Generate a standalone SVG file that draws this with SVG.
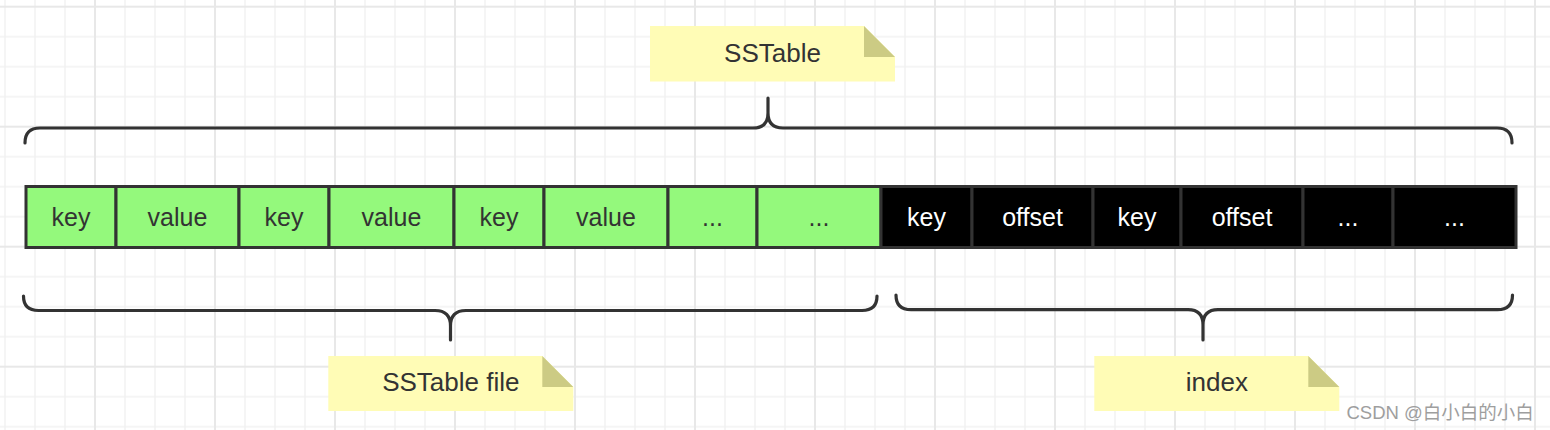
<svg xmlns="http://www.w3.org/2000/svg" width="1550" height="430" viewBox="0 0 1550 430">
<style>
.cell{stroke:#333;stroke-width:3}
.g{fill:#94f97c}
.b{fill:#000}
.t{font-family:"Liberation Sans",Arial,sans-serif;font-size:25px;text-anchor:middle}
.nt{font-size:26px}
.dk{fill:#333}
.wh{fill:#fff}
.brace{fill:none;stroke:#333;stroke-width:3.2;stroke-linecap:round;stroke-linejoin:round}
.note{fill:#fffcb6}
.fold{fill:#cccb84}
.wm{font-family:"Liberation Sans","Noto Sans CJK SC",sans-serif;font-size:18.5px;fill:#9e9e9e}
</style>
<defs>
<pattern id="grid" patternUnits="userSpaceOnUse" x="-40" y="-8.3" width="120" height="120">
<path d="M45 0V120M75 0V120M105 0V120M0 45H120M0 75H120M0 105H120" stroke="#f2f2f2" stroke-width="1.5" fill="none"/>
<path d="M15 0V120M0 15H120" stroke="#e8e8e8" stroke-width="2" fill="none"/>
</pattern>
</defs>
<rect width="1550" height="430" fill="#fff"/>
<rect width="1550" height="430" fill="url(#grid)"/>

<g id="connectors">
<path class="brace" d="M25 143Q25 128 40 128L753 128Q768 128 768 113L768 98M768 113Q768 128 783 128L1497 128Q1512 128 1512 143"/>
<path class="brace" d="M23.5 296Q23.5 310.5 38.5 310.5L435 310.5Q450.5 310.5 450.5 326L450.5 340M450.5 326Q450.5 310.5 466 310.5L862 310.5Q877 310.5 877 296"/>
<path class="brace" d="M896 295Q896 309.7 911 309.7L1188 309.7Q1203 309.7 1203 325L1203 340M1203 325Q1203 309.7 1218 309.7L1497.5 309.7Q1512.5 309.7 1512.5 295"/>
</g>

<g id="note-sstable">
<path class="note" d="M650 26H864L895 57V81.5H650Z"/>
<path class="fold" d="M864 26L895 57H864Z"/>
<text class="t nt dk" x="772.5" y="62">SSTable</text>
</g>
<g id="note-sstable-file">
<path class="note" d="M328.3 356H542.3L573.3 387V411H328.3Z"/>
<path class="fold" d="M542.3 356L573.3 387H542.3Z"/>
<text class="t nt dk" x="450.8" y="391">SSTable file</text>
</g>
<g id="note-index">
<path class="note" d="M1094.3 356H1308.3L1339.3 387V411H1094.3Z"/>
<path class="fold" d="M1308.3 356L1339.3 387H1308.3Z"/>
<text class="t nt dk" x="1216.8" y="391">index</text>
</g>

<g id="cell-1"><rect class="cell g" x="26" y="186.5" width="90" height="61"/><text class="t dk" x="71" y="226">key</text></g>
<g id="cell-2"><rect class="cell g" x="116" y="186.5" width="123" height="61"/><text class="t dk" x="177.5" y="226">value</text></g>
<g id="cell-3"><rect class="cell g" x="239" y="186.5" width="90" height="61"/><text class="t dk" x="284" y="226">key</text></g>
<g id="cell-4"><rect class="cell g" x="329" y="186.5" width="125" height="61"/><text class="t dk" x="391.5" y="226">value</text></g>
<g id="cell-5"><rect class="cell g" x="454" y="186.5" width="90" height="61"/><text class="t dk" x="499" y="226">key</text></g>
<g id="cell-6"><rect class="cell g" x="544" y="186.5" width="124" height="61"/><text class="t dk" x="606" y="226">value</text></g>
<g id="cell-7"><rect class="cell g" x="668" y="186.5" width="89" height="61"/><text class="t dk" x="712.5" y="226">...</text></g>
<g id="cell-8"><rect class="cell g" x="757" y="186.5" width="124" height="61"/><text class="t dk" x="819" y="226">...</text></g>
<g id="cell-9"><rect class="cell b" x="881" y="186.5" width="91" height="61"/><text class="t wh" x="926.5" y="226">key</text></g>
<g id="cell-10"><rect class="cell b" x="972" y="186.5" width="121" height="61"/><text class="t wh" x="1032.5" y="226">offset</text></g>
<g id="cell-11"><rect class="cell b" x="1093" y="186.5" width="88" height="61"/><text class="t wh" x="1137" y="226">key</text></g>
<g id="cell-12"><rect class="cell b" x="1181" y="186.5" width="122" height="61"/><text class="t wh" x="1242" y="226">offset</text></g>
<g id="cell-13"><rect class="cell b" x="1303" y="186.5" width="90" height="61"/><text class="t wh" x="1348" y="226">...</text></g>
<g id="cell-14"><rect class="cell b" x="1393" y="186.5" width="123" height="61"/><text class="t wh" x="1454.5" y="226">...</text></g>

<text class="wm" x="1346.5" y="418.5">CSDN @白小白的小白</text>
</svg>
